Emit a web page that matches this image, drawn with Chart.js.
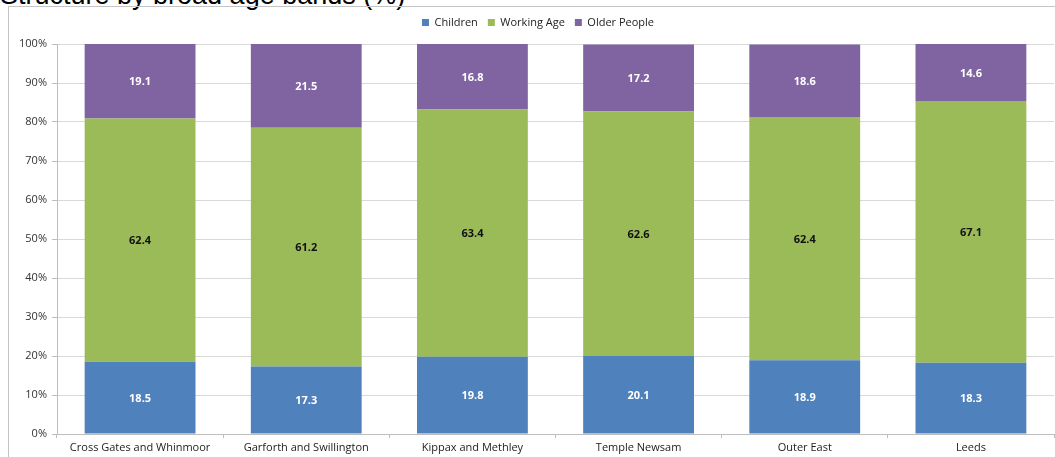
<!DOCTYPE html>
<html>
<head>
<meta charset="utf-8">
<script src="https://cdn.jsdelivr.net/npm/chart.js@4/dist/chart.umd.min.js"></script>
<style>
  html, body { margin: 0; padding: 0; background: #fff; }
  #wrap { position: relative; width: 1055px; height: 457px; overflow: hidden; }
  #title {
    position: absolute; left: 0; top: -18px;
    font: 27px "Liberation Sans", Arial, sans-serif; line-height: 27px;
    color: #000; white-space: nowrap;
  }
  #frame {
    position: absolute; left: 8px; top: 6px; width: 1100px; height: 500px;
    border: 1px solid #c4c4c4; box-sizing: border-box;
  }
  #chart-box { position: absolute; left: 0; top: 0; width: 1055px; height: 457px; }
</style>
</head>
<body>
<div id="wrap">
  <div id="title">Structure by broad age bands (%)</div>
  <div id="frame"></div>
  <div id="chart-box"><canvas id="ageChart"></canvas></div>
</div>
<script>
"use strict";

// Areas and their population share per age band (%)
var areas = ['Cross Gates and Whinmoor', 'Garforth and Swillington', 'Kippax and Methley', 'Temple Newsam', 'Outer East', 'Leeds'];
var children = [18.5, 17.3, 19.8, 20.1, 18.9, 18.3];
var workingAge = [62.4, 61.2, 63.4, 62.6, 62.4, 67.1];
var olderPeople = [19.1, 21.5, 16.8, 17.2, 18.6, 14.6];

var fontFamily = '"Open Sans", "Liberation Sans", sans-serif';

// Value labels drawn in the middle of each stacked segment
var segmentLabels = {
    id: 'segmentLabels',
    afterDatasetsDraw: function (chart) {
        var ctx = chart.ctx;
        ctx.save();
        ctx.font = 'bold 11px ' + fontFamily;
        ctx.textAlign = 'center';
        ctx.textBaseline = 'middle';
        chart.data.datasets.forEach(function (ds, i) {
            var meta = chart.getDatasetMeta(i);
            meta.data.forEach(function (bar, j) {
                var p = bar.getCenterPoint();
                ctx.fillStyle = ds.labelColor;
                ctx.fillText(ds.data[j].toFixed(1), p.x, p.y + 1);
            });
        });
        ctx.restore();
    }
};

// Extra room between the legend and the plot, legend nudged right a bit
var legendGap = {
    id: 'legendGap',
    beforeInit: function (chart) {
        var origFit = chart.legend.fit;
        chart.legend.fit = function () {
            origFit.bind(chart.legend)();
            this.height += 6;
        };
    },
    afterLayout: function (chart) {
        chart.legend.left += 22;
    }
};

var ctx = document.getElementById('ageChart').getContext('2d');
var chart = new Chart(ctx, {
    type: 'bar',
    data: {
        labels: areas,
        datasets: [{
            label: 'Children',
            data: children,
            backgroundColor: '#4F81BD',
            labelColor: '#ffffff'
        }, {
            label: 'Working Age',
            data: workingAge,
            backgroundColor: '#9BBB59',
            labelColor: '#111111'
        }, {
            label: 'Older People',
            data: olderPeople,
            backgroundColor: '#8064A2',
            labelColor: '#ffffff'
        }]
    },
    options: {
        responsive: true,
        maintainAspectRatio: false,
        animation: false,
        categoryPercentage: 1,
        barPercentage: 0.667,
        layout: { padding: { top: 7, right: 1, left: 0, bottom: 0 } },
        plugins: {
            title: { display: false },
            tooltip: { enabled: false },
            legend: {
                position: 'top',
                labels: {
                    boxWidth: 7,
                    boxHeight: 7,
                    padding: 10,
                    color: '#222',
                    font: { family: fontFamily, size: 11 }
                }
            }
        },
        scales: {
            x: {
                stacked: true,
                grid: {
                    offset: true,
                    drawOnChartArea: false,
                    drawTicks: true,
                    tickLength: 4,
                    color: '#bdbdbd'
                },
                border: { color: '#bdbdbd' },
                ticks: {
                    padding: 3,
                    color: '#222',
                    maxRotation: 0,
                    font: { family: fontFamily, size: 11 }
                },
                afterFit: function (scale) { scale.height = 23; }
            },
            y: {
                stacked: true,
                min: 0,
                max: 100,
                grid: {
                    color: '#d9d9d9',
                    tickLength: 5,
                    tickColor: '#bdbdbd'
                },
                border: { color: '#bdbdbd' },
                ticks: {
                    stepSize: 10,
                    padding: 5,
                    color: '#333',
                    font: { family: fontFamily, size: 11 },
                    callback: function (v) { return v + '%'; }
                },
                afterFit: function (scale) { scale.width = 57; }
            }
        }
    },
    plugins: [segmentLabels, legendGap]
});
</script>
</body>
</html>
